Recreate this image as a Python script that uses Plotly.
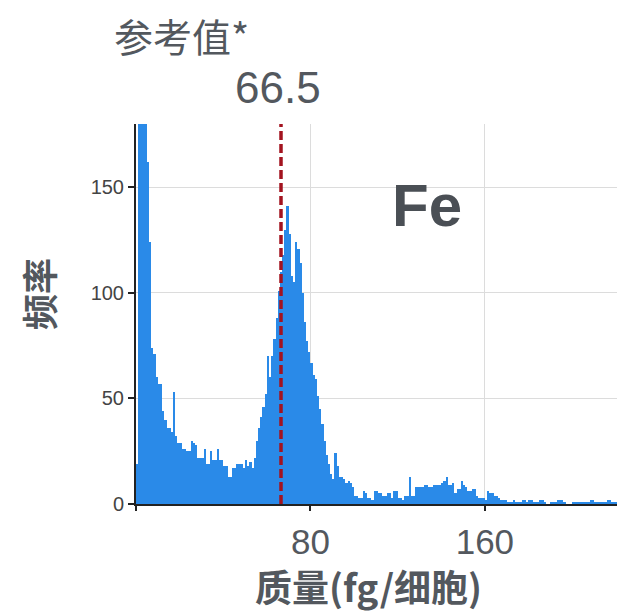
import plotly.graph_objects as go

# Histogram of iron mass per cell, 1 fg bins starting at 0
bin_width = 1.0
counts = [
    19, 260, 230, 205, 190, 162, 124, 74, 71, 60,      # 0-9
    57, 57, 44, 40, 36, 36, 34, 53, 32, 29,            # 10-19
    29, 26, 26, 25, 25, 30, 29, 28, 22, 22,            # 20-29
    22, 26, 19, 19, 25, 21, 21, 26, 21, 21,            # 30-39
    18, 18, 13, 13, 17, 17, 19, 19, 19, 17,            # 40-49
    21, 18, 20, 17, 22, 30, 36, 41, 46, 52,            # 50-59
    70, 60, 70, 78, 88, 101, 110, 118, 130, 141,       # 60-69
    128, 108, 105, 124, 121, 114, 100, 86, 77, 72,     # 70-79
    67, 61, 59, 51, 45, 38, 30, 23, 19, 14,            # 80-89
    12, 24, 18, 13, 13, 12, 10, 11, 10, 8,             # 90-99
    4, 4, 3, 3, 6, 5, 3, 3, 2, 6,                      # 100-109
    6, 5, 5, 4, 4, 5, 5, 3, 6, 6,                      # 110-119
    3, 3, 2, 4, 4, 13, 4, 4, 8, 8,                     # 120-129
    8, 8, 9, 9, 8, 8, 9, 9, 9, 9,                      # 130-139
    10, 11, 13, 9, 9, 10, 5, 7, 7, 11,                 # 140-149
    9, 8, 6, 6, 7, 7, 4, 3, 3, 3,                      # 150-159
    2, 6, 5, 5, 4, 4, 3, 2, 2, 2,                      # 160-169
    1, 1, 1, 2, 1, 1, 1, 2, 2, 1,                      # 170-179
    2, 2, 1, 1, 1, 2, 2, 1, 0, 0,                      # 180-189
    1, 1, 1, 2, 2, 2, 1, 0, 0, 0,                      # 190-199
    1, 1, 1, 1, 1, 1, 1, 1, 2, 2,                      # 200-209
    1, 1, 1, 1, 1, 1, 2, 2, 1, 1,                      # 210-219
    1,                                                 # 220
]
bin_centers = [bin_width * (i + 0.5) for i in range(len(counts))]

reference_value = 66.5
element_label = "Fe"
x_tick_values = [0, 80, 160]
x_tick_text = ["", "80", "160"]
y_tick_values = [0, 50, 100, 150]
x_range = [0, 220.6]
y_range = [0, 180]

bar_color = "#2a8ae8"
line_color = "#a3131f"
text_gray = "#53585e"
cjk_font = "Noto Sans CJK SC"

fig = go.Figure()
fig.add_trace(go.Bar(
    x=bin_centers,
    y=counts,
    width=bin_width,
    marker=dict(color=bar_color, line=dict(width=0)),
    showlegend=False,
))

# reference value marker
fig.add_shape(
    type="line", xref="x", yref="paper",
    x0=reference_value, x1=reference_value, y0=0, y1=1,
    line=dict(color=line_color, width=3.5, dash="9px,4px"),
    layer="above",
)

fig.update_layout(
    width=618, height=615,
    margin=dict(l=136, r=1, t=124, b=111),
    paper_bgcolor="white",
    plot_bgcolor="white",
    bargap=0,
    xaxis=dict(
        range=x_range,
        tickvals=x_tick_values,
        ticktext=x_tick_text,
        ticks="outside", ticklen=5, tickwidth=1.5, tickcolor="#222",
        tickfont=dict(family="Liberation Sans", size=35, color=text_gray),
        ticklabelstandoff=1,
        showline=True, linecolor="#222", linewidth=2,
        showgrid=True, gridcolor="#dcdcdc", gridwidth=1,
        zeroline=False,
    ),
    yaxis=dict(
        range=y_range,
        tickvals=y_tick_values,
        ticks="outside", ticklen=6, tickwidth=1.5, tickcolor="#222",
        tickfont=dict(family="Liberation Sans", size=20, color="#444"),
        showline=True, linecolor="#222", linewidth=2,
        showgrid=True, gridcolor="#dcdcdc", gridwidth=1,
        zeroline=False,
    ),
    annotations=[
        dict(text="参考值*", xref="paper", yref="paper",
             x=(181 - 136) / 481, y=(504 - 35) / 380,
             xanchor="center", yanchor="middle", showarrow=False,
             font=dict(family=cjk_font, size=39, color=text_gray)),
        dict(text=f"{reference_value}", xref="x", yref="paper",
             x=reference_value, y=(504 - 87) / 380,
             xanchor="center", yanchor="middle", xshift=-3,
             showarrow=False,
             font=dict(family="Liberation Sans", size=44, color=text_gray)),
        dict(text=f"<b>{element_label}</b>", xref="paper", yref="paper",
             x=(427 - 136) / 481, y=(504 - 205) / 380,
             xanchor="center", yanchor="middle", showarrow=False,
             font=dict(family="Liberation Sans", size=60, color="#4a4f55")),
        dict(text="<b>质量(fg/细胞)</b>", xref="paper", yref="paper",
             x=(368 - 136) / 481, y=(504 - 586) / 380,
             xanchor="center", yanchor="middle", showarrow=False,
             font=dict(family=cjk_font, size=37, color=text_gray)),
        dict(text="<b>频率</b>", xref="paper", yref="paper",
             x=(38 - 136) / 481, y=(504 - 294) / 380,
             xanchor="center", yanchor="middle", textangle=-90,
             showarrow=False,
             font=dict(family=cjk_font, size=36, color=text_gray)),
    ],
)

fig.write_html("out.html")
